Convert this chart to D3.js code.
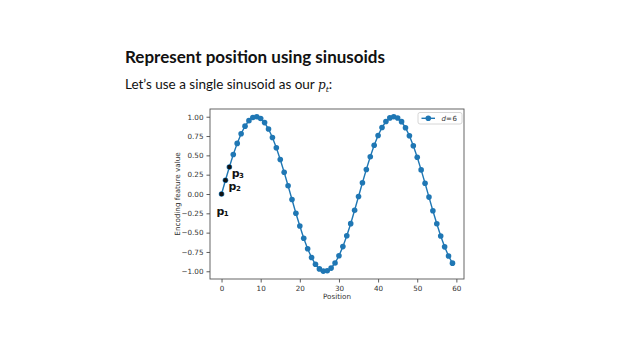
<!DOCTYPE html>
<html><head><meta charset="utf-8">
<script src="https://cdn.jsdelivr.net/npm/d3@7"></script>
<style>body{margin:0;background:#fff}svg{display:block}</style>
</head><body>
<svg id="c" width="640" height="360"></svg>
<script>
const positions = d3.range(0, 60);
const values = [0, 0.178, 0.349, 0.511, 0.655, 0.779, 0.878, 0.949, 0.990, 0.999,
  0.977, 0.924, 0.841, 0.731, 0.598, 0.447, 0.281, 0.106, -0.072, -0.249,
  -0.415, -0.572, -0.708, -0.822, -0.910, -0.969, -0.998, -0.994, -0.959, -0.893,
  -0.800, -0.681, -0.541, -0.384, -0.210, -0.033, 0.145, 0.318, 0.482, 0.630,
  0.758, 0.861, 0.938, 0.985, 1.000, 0.984, 0.936, 0.858, 0.753, 0.625,
  0.476, 0.312, 0.139, -0.040, -0.216, -0.385, -0.544, -0.684, -0.803, -0.895];
const xTicks = [0, 10, 20, 30, 40, 50, 60];
const yTicks = [1.0, 0.75, 0.5, 0.25, 0, -0.25, -0.5, -0.75, -1.0];
const annotations = [{i: 0, label: "1"}, {i: 1, label: "2"}, {i: 2, label: "3"}];

const svg = d3.select("#c");
const L = 210, R = 464, T = 109, B = 279;
const x = d3.scaleLinear().domain([-2.95, 61.95]).range([L, R]);
const y = d3.scaleLinear().domain([-1.1, 1.1]).range([B, T]);

svg.append("text").attr("x", 125).attr("y", 63)
  .attr("font-family", "Lato, 'DejaVu Sans', sans-serif").attr("font-weight", "bold")
  .attr("font-size", 17).attr("fill", "#111").attr("textLength", 260)
  .text("Represent position using sinusoids");
const sub = svg.append("text").attr("x", 125).attr("y", 89)
  .attr("font-family", "Lato, 'DejaVu Sans', sans-serif")
  .attr("font-size", 13.5).attr("fill", "#111");
sub.append("tspan").text("Let\u2019s use a single sinusoid as our ");
sub.append("tspan").attr("font-family", "'DejaVu Serif', serif").attr("font-style", "italic").attr("font-size", 12).text("p");
sub.append("tspan").attr("font-family", "'DejaVu Serif', serif").attr("font-style", "italic").attr("font-size", 8).attr("dy", 2.5).text("t");
sub.append("tspan").attr("dy", -2.5).text(":");

const fmt = d => d3.format(".2f")(d).replace("-", "\u2212");
const xAxis = d3.axisBottom(x).tickValues(xTicks).tickSize(3.5).tickPadding(3).tickFormat(d3.format("d"));
const yAxis = d3.axisLeft(y).tickValues(yTicks).tickSize(3.5).tickPadding(3).tickFormat(fmt);

const gx = svg.append("g").attr("transform", `translate(0,${B})`).call(xAxis);
const gy = svg.append("g").attr("transform", `translate(${L},0)`).call(yAxis);
[gx, gy].forEach(g => {
  g.select(".domain").remove();
  g.selectAll("line").attr("stroke", "#333").attr("stroke-width", 0.8);
  g.selectAll("text").attr("font-family", "'DejaVu Sans', sans-serif").attr("font-size", 7.2).attr("fill", "#333");
});

svg.append("rect").attr("x", L).attr("y", T).attr("width", R - L).attr("height", B - T)
  .attr("fill", "none").attr("stroke", "#555").attr("stroke-width", 0.9);

svg.append("text").attr("x", (L + R) / 2).attr("y", B + 20).attr("text-anchor", "middle")
  .attr("font-family", "'DejaVu Sans', sans-serif").attr("font-size", 7.2).attr("fill", "#333").text("Position");
svg.append("text").attr("transform", `translate(180,${(T + B) / 2}) rotate(-90)`).attr("text-anchor", "middle")
  .attr("font-family", "'DejaVu Sans', sans-serif").attr("font-size", 7.2).attr("fill", "#333").text("Encoding feature value");

const data = positions.map((p, i) => ({p, v: values[i]}));
const col = "#1f77b4";
svg.append("path").datum(data).attr("fill", "none").attr("stroke", col).attr("stroke-width", 1.4)
  .attr("d", d3.line().x(d => x(d.p)).y(d => y(d.v)));
svg.append("g").selectAll("circle").data(data).join("circle")
  .attr("cx", d => x(d.p)).attr("cy", d => y(d.v)).attr("r", 2.8).attr("fill", col);

// annotations (handwritten marks)
svg.append("g").selectAll("circle").data(annotations).join("circle")
  .attr("cx", d => x(positions[d.i])).attr("cy", d => y(values[d.i])).attr("r", 2.2).attr("fill", "#111");
const annPos = [[-1.3, -0.27], [1.8, 0.05], [2.6, 0.22]];
annotations.forEach((a, k) => {
  const t = svg.append("text").attr("x", x(annPos[k][0])).attr("y", y(annPos[k][1]))
    .attr("font-family", "'DejaVu Sans', sans-serif").attr("font-weight", "bold")
    .attr("font-size", 11).attr("fill", "#111");
  t.append("tspan").text("p");
  t.append("tspan").attr("font-size", 7).attr("dy", 1).attr("dx", -0.5).text(a.label);
});

// legend
const lg = svg.append("g");
lg.append("rect").attr("x", 418).attr("y", 112.5).attr("width", 44).attr("height", 11.5).attr("rx", 2)
  .attr("fill", "#fff").attr("stroke", "#ccc").attr("stroke-width", 0.8);
lg.append("line").attr("x1", 421.5).attr("x2", 435).attr("y1", 118.3).attr("y2", 118.3).attr("stroke", col).attr("stroke-width", 1.4);
lg.append("circle").attr("cx", 428.3).attr("cy", 118.3).attr("r", 2.8).attr("fill", col);
const lt = lg.append("text").attr("x", 441.5).attr("y", 120.8).attr("font-family", "'DejaVu Sans', sans-serif")
  .attr("font-size", 7).attr("fill", "#333");
lt.append("tspan").attr("font-style", "italic").text("d");
lt.append("tspan").text("=6").attr("textLength", 11);
</script>
</body></html>
